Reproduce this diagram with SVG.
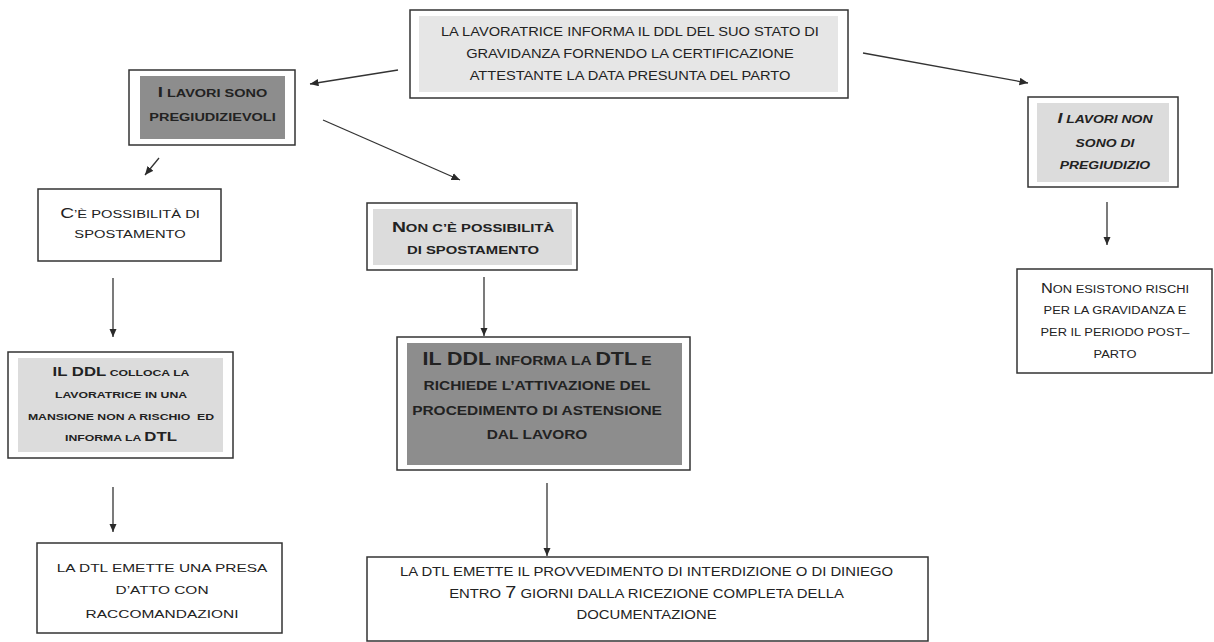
<svg xmlns="http://www.w3.org/2000/svg" width="1214" height="642" viewBox="0 0 1214 642">
<defs>
<marker id="ah" markerWidth="10" markerHeight="8" refX="8.5" refY="3.75" orient="auto" markerUnits="userSpaceOnUse">
<path d="M0,0 L8.5,3.75 L0,7.5 z" fill="#2a2a2a"/>
</marker>
<style>
.box{fill:#fff;stroke:#333;stroke-width:1.5}
.dark{fill:#8d8d8d}
.light{fill:#dcdcdc}
.pale{fill:#e6e6e6}
.t{font-family:"Liberation Sans",Arial,sans-serif;fill:#222;text-anchor:middle}
.bd{font-weight:bold}
.it{font-style:italic}
.conn line{stroke:#333;stroke-width:1.3;marker-end:url(#ah)}
</style>
</defs>
<rect width="1214" height="642" fill="#fff"/>

<g class="conn" id="connectors">
<line x1="398" y1="70" x2="310" y2="84"/>
<line x1="863" y1="53" x2="1028" y2="83"/>
<line x1="323" y1="120" x2="460" y2="180"/>
<line x1="159" y1="158" x2="145" y2="175"/>
<line x1="113" y1="278" x2="113" y2="337"/>
<line x1="113" y1="487" x2="113" y2="532"/>
<line x1="484" y1="277" x2="484" y2="336"/>
<line x1="547" y1="483" x2="547" y2="556"/>
<line x1="1107" y1="202" x2="1107" y2="245"/>
</g>

<g id="node-top">
<rect class="box" x="410" y="10" width="438" height="88"/>
<rect class="pale" x="419" y="16" width="419" height="76"/>
<g class="t" font-size="13.3" transform="scale(1.1 1)">
<text x="572.7" y="36">LA LAVORATRICE INFORMA IL DDL DEL SUO STATO DI</text>
<text x="572.7" y="58">GRAVIDANZA FORNENDO LA CERTIFICAZIONE</text>
<text x="572.7" y="80">ATTESTANTE LA DATA PRESUNTA DEL PARTO</text>
</g>
</g>

<g id="node-pregiudizievoli">
<rect class="box" x="129" y="70" width="166" height="75"/>
<rect class="dark" x="140" y="76" width="145" height="63"/>
<g class="t bd" font-size="11.6" transform="scale(1.25 1)">
<text x="170" y="97"><tspan font-size="15">I</tspan> LAVORI SONO</text>
<text x="170" y="121.5">PREGIUDIZIEVOLI</text>
</g>
</g>

<g id="node-possibilita">
<rect class="box" x="38" y="189" width="183" height="72"/>
<g class="t" font-size="11.5" transform="scale(1.28 1)">
<text x="101.6" y="218"><tspan font-size="15">C</tspan>’È POSSIBILITÀ DI</text>
<text x="101.6" y="238.5">SPOSTAMENTO</text>
</g>
</g>

<g id="node-non-possibilita">
<rect class="box" x="367" y="203" width="210" height="67"/>
<rect class="light" x="373" y="209" width="199" height="56"/>
<g class="t bd" font-size="11.5" transform="scale(1.29 1)">
<text x="366.7" y="232.5"><tspan font-size="15">N</tspan>ON C’È POSSIBILITÀ</text>
<text x="366.7" y="254">DI SPOSTAMENTO</text>
</g>
</g>

<g id="node-ddl-informa">
<rect class="box" x="397" y="337" width="293" height="133"/>
<rect class="dark" x="407" y="343" width="275" height="122"/>
<g class="t bd" font-size="13" transform="scale(1.19 1)">
<text x="451.3" y="365"><tspan font-size="18">IL DDL</tspan> INFORMA LA <tspan font-size="18">DTL</tspan> E</text>
<text x="451.3" y="390">RICHIEDE L’ATTIVAZIONE DEL</text>
<text x="451.3" y="415">PROCEDIMENTO DI ASTENSIONE</text>
<text x="451.3" y="439">DAL LAVORO</text>
</g>
</g>

<g id="node-ddl-colloca">
<rect class="box" x="8" y="352" width="225" height="106"/>
<rect class="light" x="18" y="358" width="205" height="94"/>
<g class="t bd" font-size="9.5" transform="scale(1.29 1)">
<text x="93.8" y="376"><tspan font-size="13">IL DDL</tspan> COLLOCA LA</text>
<text x="93.8" y="398">LAVORATRICE IN UNA</text>
<text x="93.8" y="420" xml:space="preserve">MANSIONE NON A RISCHIO  ED</text>
<text x="93.8" y="441">INFORMA LA <tspan font-size="13">DTL</tspan></text>
</g>
</g>

<g id="node-presa-atto">
<rect class="box" x="37" y="543" width="245" height="90"/>
<g class="t" font-size="11.8" transform="scale(1.31 1)">
<text x="123.7" y="572">LA DTL EMETTE UNA PRESA</text>
<text x="123.7" y="594">D’ATTO CON</text>
<text x="123.7" y="618">RACCOMANDAZIONI</text>
</g>
</g>

<g id="node-provvedimento">
<rect class="box" x="367" y="557" width="561" height="84"/>
<g class="t" font-size="12" transform="scale(1.24 1)">
<text x="521.4" y="576">LA DTL EMETTE IL PROVVEDIMENTO DI INTERDIZIONE O DI DINIEGO</text>
<text x="521.4" y="598">ENTRO <tspan font-size="16">7</tspan> GIORNI DALLA RICEZIONE COMPLETA DELLA</text>
<text x="521.4" y="619">DOCUMENTAZIONE</text>
</g>
</g>

<g id="node-non-pregiudizio">
<rect class="box" x="1028" y="97" width="150" height="90"/>
<rect class="light" x="1037" y="103" width="132" height="79"/>
<g class="t bd it" font-size="11.8" transform="scale(1.18 1)">
<text x="936.4" y="123"><tspan font-size="15">I</tspan> LAVORI NON</text>
<text x="936.4" y="147">SONO DI</text>
<text x="936.4" y="169">PREGIUDIZIO</text>
</g>
</g>

<g id="node-non-esistono">
<rect class="box" x="1017" y="269" width="195" height="104"/>
<g class="t" font-size="11" transform="scale(1.17 1)">
<text x="953" y="293"><tspan font-size="14">N</tspan>ON ESISTONO RISCHI</text>
<text x="953" y="314.5">PER LA GRAVIDANZA E</text>
<text x="953" y="336.5">PER IL PERIODO POST–</text>
<text x="953" y="358">PARTO</text>
</g>
</g>
</svg>
